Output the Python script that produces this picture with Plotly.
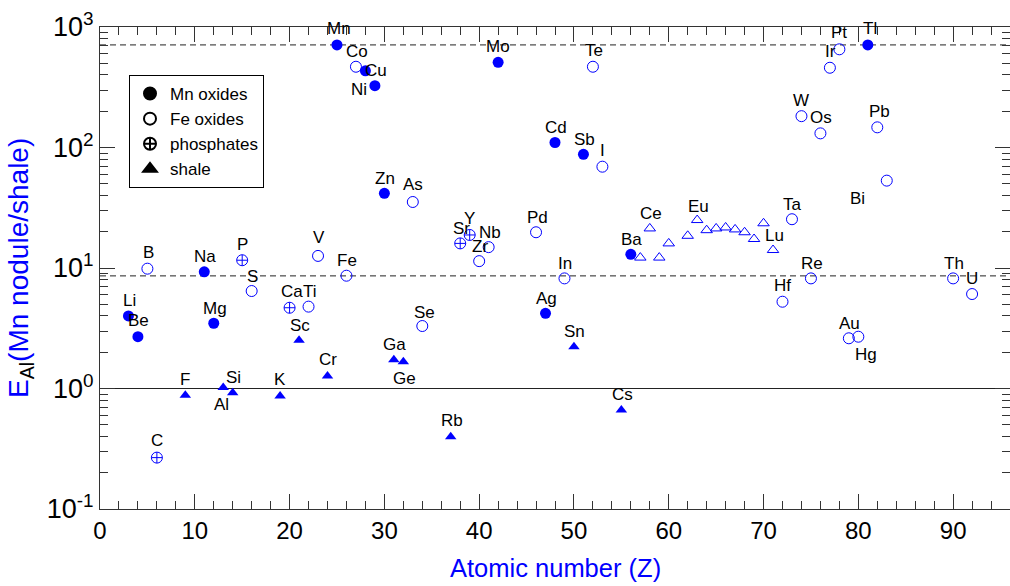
import numpy as np
import plotly.graph_objects as go

# ---------------- data (Z, enrichment factor E_Al) ----------------
# Mn oxides (filled circles)
mn_el = ["Li", "Be", "Na", "Mg", "Mn", "Ni", "Cu", "Zn", "Mo", "Ag", "Cd", "Sb", "Ba", "Tl"]
mn_z = [3, 4, 11, 12, 25, 28, 29, 30, 42, 47, 48, 51, 56, 81]
mn_e = [4.0, 2.69, 9.3, 3.48, 710, 433, 326, 41.7, 509, 4.21, 110, 87.7, 13.0, 710]

# Fe oxides (open circles)
fe_el = ["B", "S", "Ti", "V", "Fe", "Co", "As", "Se", "Zr", "Nb", "Pd", "In", "Te", "I",
         "Hf", "Ta", "W", "Re", "Os", "Ir", "Pt", "Au", "Hg", "Pb", "Bi", "Th", "U"]
fe_z = [5, 16, 22, 23, 26, 27, 33, 34, 40, 41, 46, 49, 52, 53,
        72, 73, 74, 75, 76, 77, 78, 79, 80, 82, 83, 90, 92]
fe_e = [9.87, 6.44, 4.78, 12.6, 8.63, 468, 35.3, 3.30, 11.4, 14.9, 19.8, 8.2, 468, 69.3,
        5.25, 25.4, 182, 8.2, 131, 459, 653, 2.61, 2.69, 147, 53.1, 8.2, 6.08]

# phosphates (crossed circles)
ph_el = ["C", "P", "Ca", "Sr", "Y"]
ph_z = [6, 15, 20, 38, 39]
ph_e = [0.267, 11.6, 4.68, 16.0, 18.8]

# shale-hosted (filled triangles)
sh_el = ["F", "Al", "Si", "K", "Sc", "Cr", "Ga", "Ge", "Rb", "Sn", "Cs"]
sh_z = [9, 13, 14, 19, 21, 24, 31, 32, 37, 50, 55]
sh_e = [0.88, 1.02, 0.92, 0.867, 2.52, 1.27, 1.73, 1.67, 0.398, 2.22, 0.664]

# rare earth elements (open triangles)
ree_el = ["La", "Ce", "Pr", "Nd", "Sm", "Eu", "Gd", "Tb", "Dy", "Ho", "Er", "Tm", "Yb", "Lu"]
ree_z = [57, 58, 59, 60, 62, 63, 64, 65, 66, 67, 68, 69, 70, 71]
ree_e = [12.2, 21.3, 12.2, 16.0, 18.5, 25.0, 20.6, 21.3, 21.7, 20.9, 19.8, 17.4, 23.5, 14.1]
ree_labelled = ["Ce", "Eu", "Lu"]

# reference levels
upper_level = 710
lower_level = 8.6
unity_level = 1.0

# y tick labels
y_tickvals = [0.1, 1, 10, 100, 1000]
y_ticktext = ["10<sup>-1</sup>", "10<sup>0</sup>", "10<sup>1</sup>", "10<sup>2</sup>", "10<sup>3</sup>"]

# ---------------- styling ----------------
BLUE = "#0000ff"
FONT = "Liberation Sans, Arial, sans-serif"
DEFAULT_OFFSET = (1, -15)  # label offset in px (dx, dy down-positive)
LABEL_OFFSETS = {
    "Al": (-2, 17), "Ge": (1, 17), "Ni": (-6, 19), "Hg": (8, 18), "Bi": (-29, 18),
    "V": (1, -18), "C": (0, -17), "As": (0, -17), "Pt": (0, -17), "Ca": (2, -16),
    "Mn": (2, -16), "Te": (1, -16), "Mo": (0, -16), "W": (0, -16), "Ir": (1, -16),
    "Tl": (2, -16), "Pb": (2, -16), "U": (0, -16), "Hf": (0, -16), "Y": (0, -16),
    "B": (1, -16), "Be": (1, -16), "F": (0, -16), "K": (0, -16), "P": (0, -16),
    "Cr": (0, -16), "Rb": (1, -16), "Os": (1, -16), "I": (0, -16), "Eu": (1, -14),
    "Se": (2, -14),
}

fig = go.Figure()

marker_line = dict(color=BLUE, width=1)
fig.add_trace(go.Scatter(x=fe_z, y=fe_e, mode="markers", showlegend=False,
                         marker=dict(symbol="circle-open", size=11, color=BLUE, line=marker_line)))
fig.add_trace(go.Scatter(x=ree_z, y=ree_e, mode="markers", showlegend=False,
                         marker=dict(symbol="triangle-up-open", size=10, color=BLUE, line=marker_line)))
fig.add_trace(go.Scatter(x=ph_z, y=ph_e, mode="markers", showlegend=False,
                         marker=dict(symbol="circle-cross-open", size=11, color=BLUE, line=marker_line)))
fig.add_trace(go.Scatter(x=sh_z, y=sh_e, mode="markers", showlegend=False,
                         marker=dict(symbol="triangle-up", size=10, color=BLUE, line=dict(width=0))))
fig.add_trace(go.Scatter(x=mn_z, y=mn_e, mode="markers", showlegend=False,
                         marker=dict(symbol="circle", size=11, color=BLUE, line=dict(width=0))))

# legend entries (black symbols)
for name, sym in [("Mn oxides", "circle"), ("Fe oxides", "circle-open"),
                  ("phosphates", "circle-cross-open"), ("shale", "triangle-up")]:
    fig.add_trace(go.Scatter(x=[None], y=[None], mode="markers", name=name,
                             marker=dict(symbol=sym, size=9, color="black",
                                         line=dict(color="black", width=1))))

# reference lines
for lvl, dash in [(upper_level, "6px,4px"), (lower_level, "6px,4px"), (unity_level, "solid")]:
    fig.add_shape(type="line", xref="paper", x0=0, x1=1, yref="y", y0=lvl, y1=lvl,
                  line=dict(color="#222", width=1, dash=dash), layer="below")

# element labels
annotations = []
def add_labels(els, zs, es, only=None):
    for el, z, e in zip(els, zs, es):
        if only is not None and el not in only:
            continue
        dx, dy = LABEL_OFFSETS.get(el, DEFAULT_OFFSET)
        annotations.append(dict(x=z, y=np.log10(e), xref="x", yref="y", text=el,
                                showarrow=False, xshift=dx, yshift=-dy,
                                font=dict(family=FONT, size=17, color="black")))

add_labels(mn_el, mn_z, mn_e)
add_labels(fe_el, fe_z, fe_e)
add_labels(ph_el, ph_z, ph_e)
add_labels(sh_el, sh_z, sh_e)
add_labels(ree_el, ree_z, ree_e, only=ree_labelled)

# axis titles as annotations
annotations.append(dict(xref="paper", yref="paper", x=(20 - 100) / 910, y=0.5,
                        xanchor="center", yanchor="middle", textangle=-90, showarrow=False,
                        text='E<sub><span style="color:black">Al</span></sub>(Mn nodule/shale)',
                        font=dict(family=FONT, size=28, color=BLUE)))
annotations.append(dict(xref="paper", yref="paper", x=0.5, y=(509 - 568) / 482,
                        xanchor="center", yanchor="middle", showarrow=False,
                        text="Atomic number (Z)",
                        font=dict(family=FONT, size=25.5, color=BLUE)))

minor_y = [m * 10.0 ** k for k in range(-1, 3) for m in range(2, 10)]

fig.update_layout(
    width=1010, height=586,
    margin=dict(l=100, r=0, t=27, b=77),
    paper_bgcolor="white", plot_bgcolor="white",
    font=dict(family=FONT, color="black"),
    annotations=annotations,
    legend=dict(x=(129 - 100) / 910, y=(509 - 75) / 482, xanchor="left", yanchor="top",
                bgcolor="white", bordercolor="black", borderwidth=1,
                font=dict(family=FONT, size=17, color="black"),
                itemsizing="constant", tracegroupgap=0, itemwidth=30),
    xaxis=dict(range=[0, 96], tick0=0, dtick=10, ticks="inside", ticklen=15, tickwidth=1,
               tickcolor="#333", showline=True, linecolor="#333", linewidth=1, mirror="allticks",
               showgrid=False, zeroline=False,
               tickfont=dict(family=FONT, size=24, color="black"),
               minor=dict(dtick=2, ticks="inside", ticklen=8, tickcolor="#333", showgrid=False)),
    yaxis=dict(type="log", range=[-1, 3], tickvals=y_tickvals, ticktext=y_ticktext,
               ticks="inside", ticklen=15, tickwidth=1, tickcolor="#333",
               showline=True, linecolor="#333", linewidth=1, mirror="allticks",
               showgrid=False, zeroline=False,
               tickfont=dict(family=FONT, size=27, color="black"),
               minor=dict(tickvals=minor_y, ticks="inside", ticklen=8, tickcolor="#333",
                          showgrid=False)),
)

fig.write_html("out.html")
